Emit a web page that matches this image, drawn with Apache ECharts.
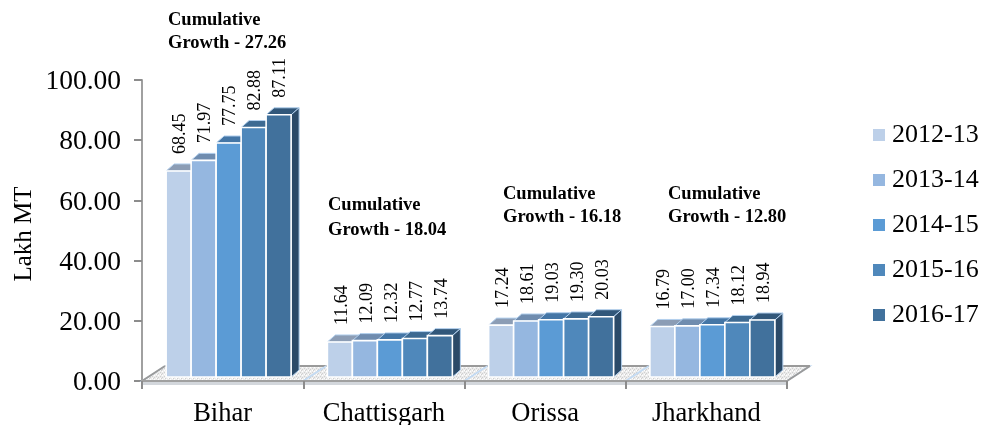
<!DOCTYPE html>
<html>
<head>
<meta charset="utf-8">
<style>html,body{margin:0;padding:0;background:#fff}#box{width:994px;height:425px}</style>
<script src="https://cdn.jsdelivr.net/npm/echarts@6/dist/echarts.min.js"></script>
</head>
<body>
<div id="box"></div>
<script>
var states = ['Bihar', 'Chattisgarh', 'Orissa', 'Jharkhand'];
var years = ['2012-13', '2013-14', '2014-15', '2015-16', '2016-17'];
var y2012 = [68.45, 11.64, 17.24, 16.79];
var y2013 = [71.97, 12.09, 18.61, 17.00];
var y2014 = [77.75, 12.32, 19.03, 17.34];
var y2015 = [82.88, 12.77, 19.30, 18.12];
var y2016 = [87.11, 13.74, 20.03, 18.94];
var growth = ['27.26', '18.04', '16.18', '12.80'];
var yTicks = [0, 20, 40, 60, 80, 100];

var allValues = [y2012, y2013, y2014, y2015, y2016];
var frontColors = ['#BDD0E9', '#95B7E0', '#5B9BD5', '#4F88BB', '#41719C'];
var topColors = ['#8C9DB5', '#6F8CAF', '#4476A6', '#3D6A92', '#31577A'];
var sideColors = ['#7F93AE', '#66809F', '#3E6C98', '#375F85', '#2B4A68'];
var serif = '"Liberation Serif", "Times New Roman", serif';

// 3d depth of the columns and floor, in pixels
var depthX = 8, depthY = 7;
var floorX = 23, floorY = 15;
var baseLift = 4;

// speckled floor fill
var tex = document.createElement('canvas');
tex.width = 4; tex.height = 4;
var c = tex.getContext('2d');
c.fillStyle = '#ececec';
c.fillRect(0, 0, 4, 4);
c.fillStyle = '#cfcfcf';
c.fillRect(0, 0, 1, 1); c.fillRect(2, 1, 1, 1); c.fillRect(1, 2, 1, 1);
c.fillStyle = '#ffffff';
c.fillRect(2, 3, 1, 1); c.fillRect(0, 2, 1, 1);

function renderFloor(params, api) {
	var band = api.size([1, 0])[0];
	var p = api.coord([api.value(0), 0]);
	var x0 = p[0] - band / 2, x1 = p[0] + band / 2, y = p[1];
	return {
		type: 'group',
		children: [
			{ type: 'rect', shape: { x: x0, y: y, width: band, height: 4 }, style: { fill: '#d3d7dc' } },
			{
				type: 'polygon',
				shape: { points: [[x0, y], [x1, y], [x1 + floorX, y - floorY], [x0 + floorX, y - floorY]] },
				style: { fill: { image: tex, repeat: 'repeat' }, stroke: '#c4dbf3', lineWidth: 1.5 }
			},
			{
				type: 'line',
				shape: { x1: x0 + floorX, y1: y - floorY, x2: x1 + floorX, y2: y - floorY },
				style: { stroke: '#9a9a9a', lineWidth: 2 }
			},
			{
				type: 'line',
				shape: { x1: x1, y1: y, x2: x1 + floorX, y2: y - floorY },
				style: { stroke: params.dataIndex == states.length - 1 ? '#9a9a9a' : 'transparent', lineWidth: 2 }
			},
			{
				type: 'line',
				shape: { x1: x0, y1: y, x2: x0 + floorX, y2: y - floorY },
				style: { stroke: params.dataIndex == 0 ? '#9a9a9a' : 'transparent', lineWidth: 2 }
			}
		]
	};
}

function renderBar(params, api) {
	var s = params.seriesIndex - 1;
	var band = api.size([1, 0])[0];
	var w = band * 0.155;
	var center = api.coord([api.value(0), 0])[0] + 6;
	var left = center - 2.5 * w + s * w;
	var right = left + w;
	var bottom = api.coord([api.value(0), 0])[1] - baseLift;
	var top = api.coord([api.value(0), api.value(1)])[1] - baseLift;
	return {
		type: 'group',
		children: [
			{
				type: 'polygon',
				shape: { points: [[left, top], [left + depthX, top - depthY], [right + depthX, top - depthY], [right, top]] },
				style: { fill: topColors[s], stroke: '#b3d0ee', lineWidth: 1 }
			},
			{
				type: 'polygon',
				shape: { points: [[right, top], [right + depthX, top - depthY], [right + depthX, bottom - depthY], [right, bottom]] },
				style: { fill: sideColors[s], stroke: '#b3d0ee', lineWidth: 1 }
			},
			{
				type: 'rect',
				shape: { x: left, y: top, width: w, height: bottom - top },
				style: { fill: api.visual('color'), stroke: '#fff', lineWidth: 1.6 }
			},
			{
				type: 'text',
				x: left + w / 2 + 2,
				y: top - 17,
				rotation: Math.PI / 2,
				style: {
					text: api.value(1).toFixed(2),
					align: 'left',
					verticalAlign: 'middle',
					font: '18px ' + serif,
					fill: '#000'
				}
			}
		]
	};
}

var series = [{
	name: 'floor',
	type: 'custom',
	renderItem: renderFloor,
	encode: { x: 0, y: 1 },
	silent: true,
	data: states.map(function(n) { return [n, 0]; }),
	z: 1
}];
years.forEach(function(y, i) {
	series.push({
		name: y,
		type: 'custom',
		renderItem: renderBar,
		encode: { x: 0, y: 1 },
		itemStyle: { color: frontColors[i] },
		data: states.map(function(n, j) { return [n, allValues[i][j]]; }),
		z: 2
	});
});

// text block positions for the growth notes
var noteX = [168, 328, 503, 668];
var noteY = [[20, 43], [205, 230], [194, 217], [194, 217]];
var notes = [];
growth.forEach(function(g, i) {
	['Cumulative', 'Growth - ' + g].forEach(function(t, k) {
		notes.push({
			type: 'text',
			left: noteX[i],
			top: noteY[i][k] - 9,
			style: { text: t, font: 'bold 18.5px ' + serif, fill: '#000' }
		});
	});
});

var myChart = echarts.init(document.getElementById('box'));
myChart.setOption({
	animation: false,
	backgroundColor: '#fff',
	grid: { left: 142, top: 80, width: 645, height: 301, outerBoundsMode: 'none' },
	legend: {
		data: years,
		orient: 'vertical',
		left: 873,
		top: 122,
		padding: 0,
		icon: 'rect',
		itemWidth: 12,
		itemHeight: 12,
		itemGap: 19,
		selectedMode: false,
		textStyle: { fontFamily: serif, fontSize: 26, color: '#000', padding: [0, 0, 0, 2] }
	},
	graphic: notes,
	xAxis: {
		type: 'category',
		data: states,
		z: 3,
		axisLine: { onZero: false, lineStyle: { color: '#a0a0a0', width: 2 } },
		axisTick: { show: true, length: 8, lineStyle: { color: '#8c8c8c', width: 2 } },
		axisLabel: { fontFamily: serif, fontSize: 26.5, color: '#000', margin: 20 }
	},
	yAxis: {
		type: 'value',
		min: 0,
		max: 100,
		interval: yTicks[1] - yTicks[0],
		name: 'Lakh MT',
		nameLocation: 'middle',
		nameGap: 105,
		nameMoveOverlap: false,
		nameTextStyle: { fontFamily: serif, fontSize: 25, color: '#000', padding: [0, 7, 0, 0] },
		splitLine: { show: false },
		axisLine: { show: true, lineStyle: { color: '#a0a0a0', width: 2 } },
		axisTick: { show: true, length: 8, lineStyle: { color: '#8c8c8c', width: 2 } },
		axisLabel: {
			fontFamily: serif,
			fontSize: 27.5,
			color: '#000',
			margin: 21,
			lineHeight: 32,
			verticalAlign: 'top',
			padding: [-14, 0, 0, 0],
			formatter: function(v) { return v.toFixed(2); }
		}
	},
	series: series
});
</script>
</body>
</html>
